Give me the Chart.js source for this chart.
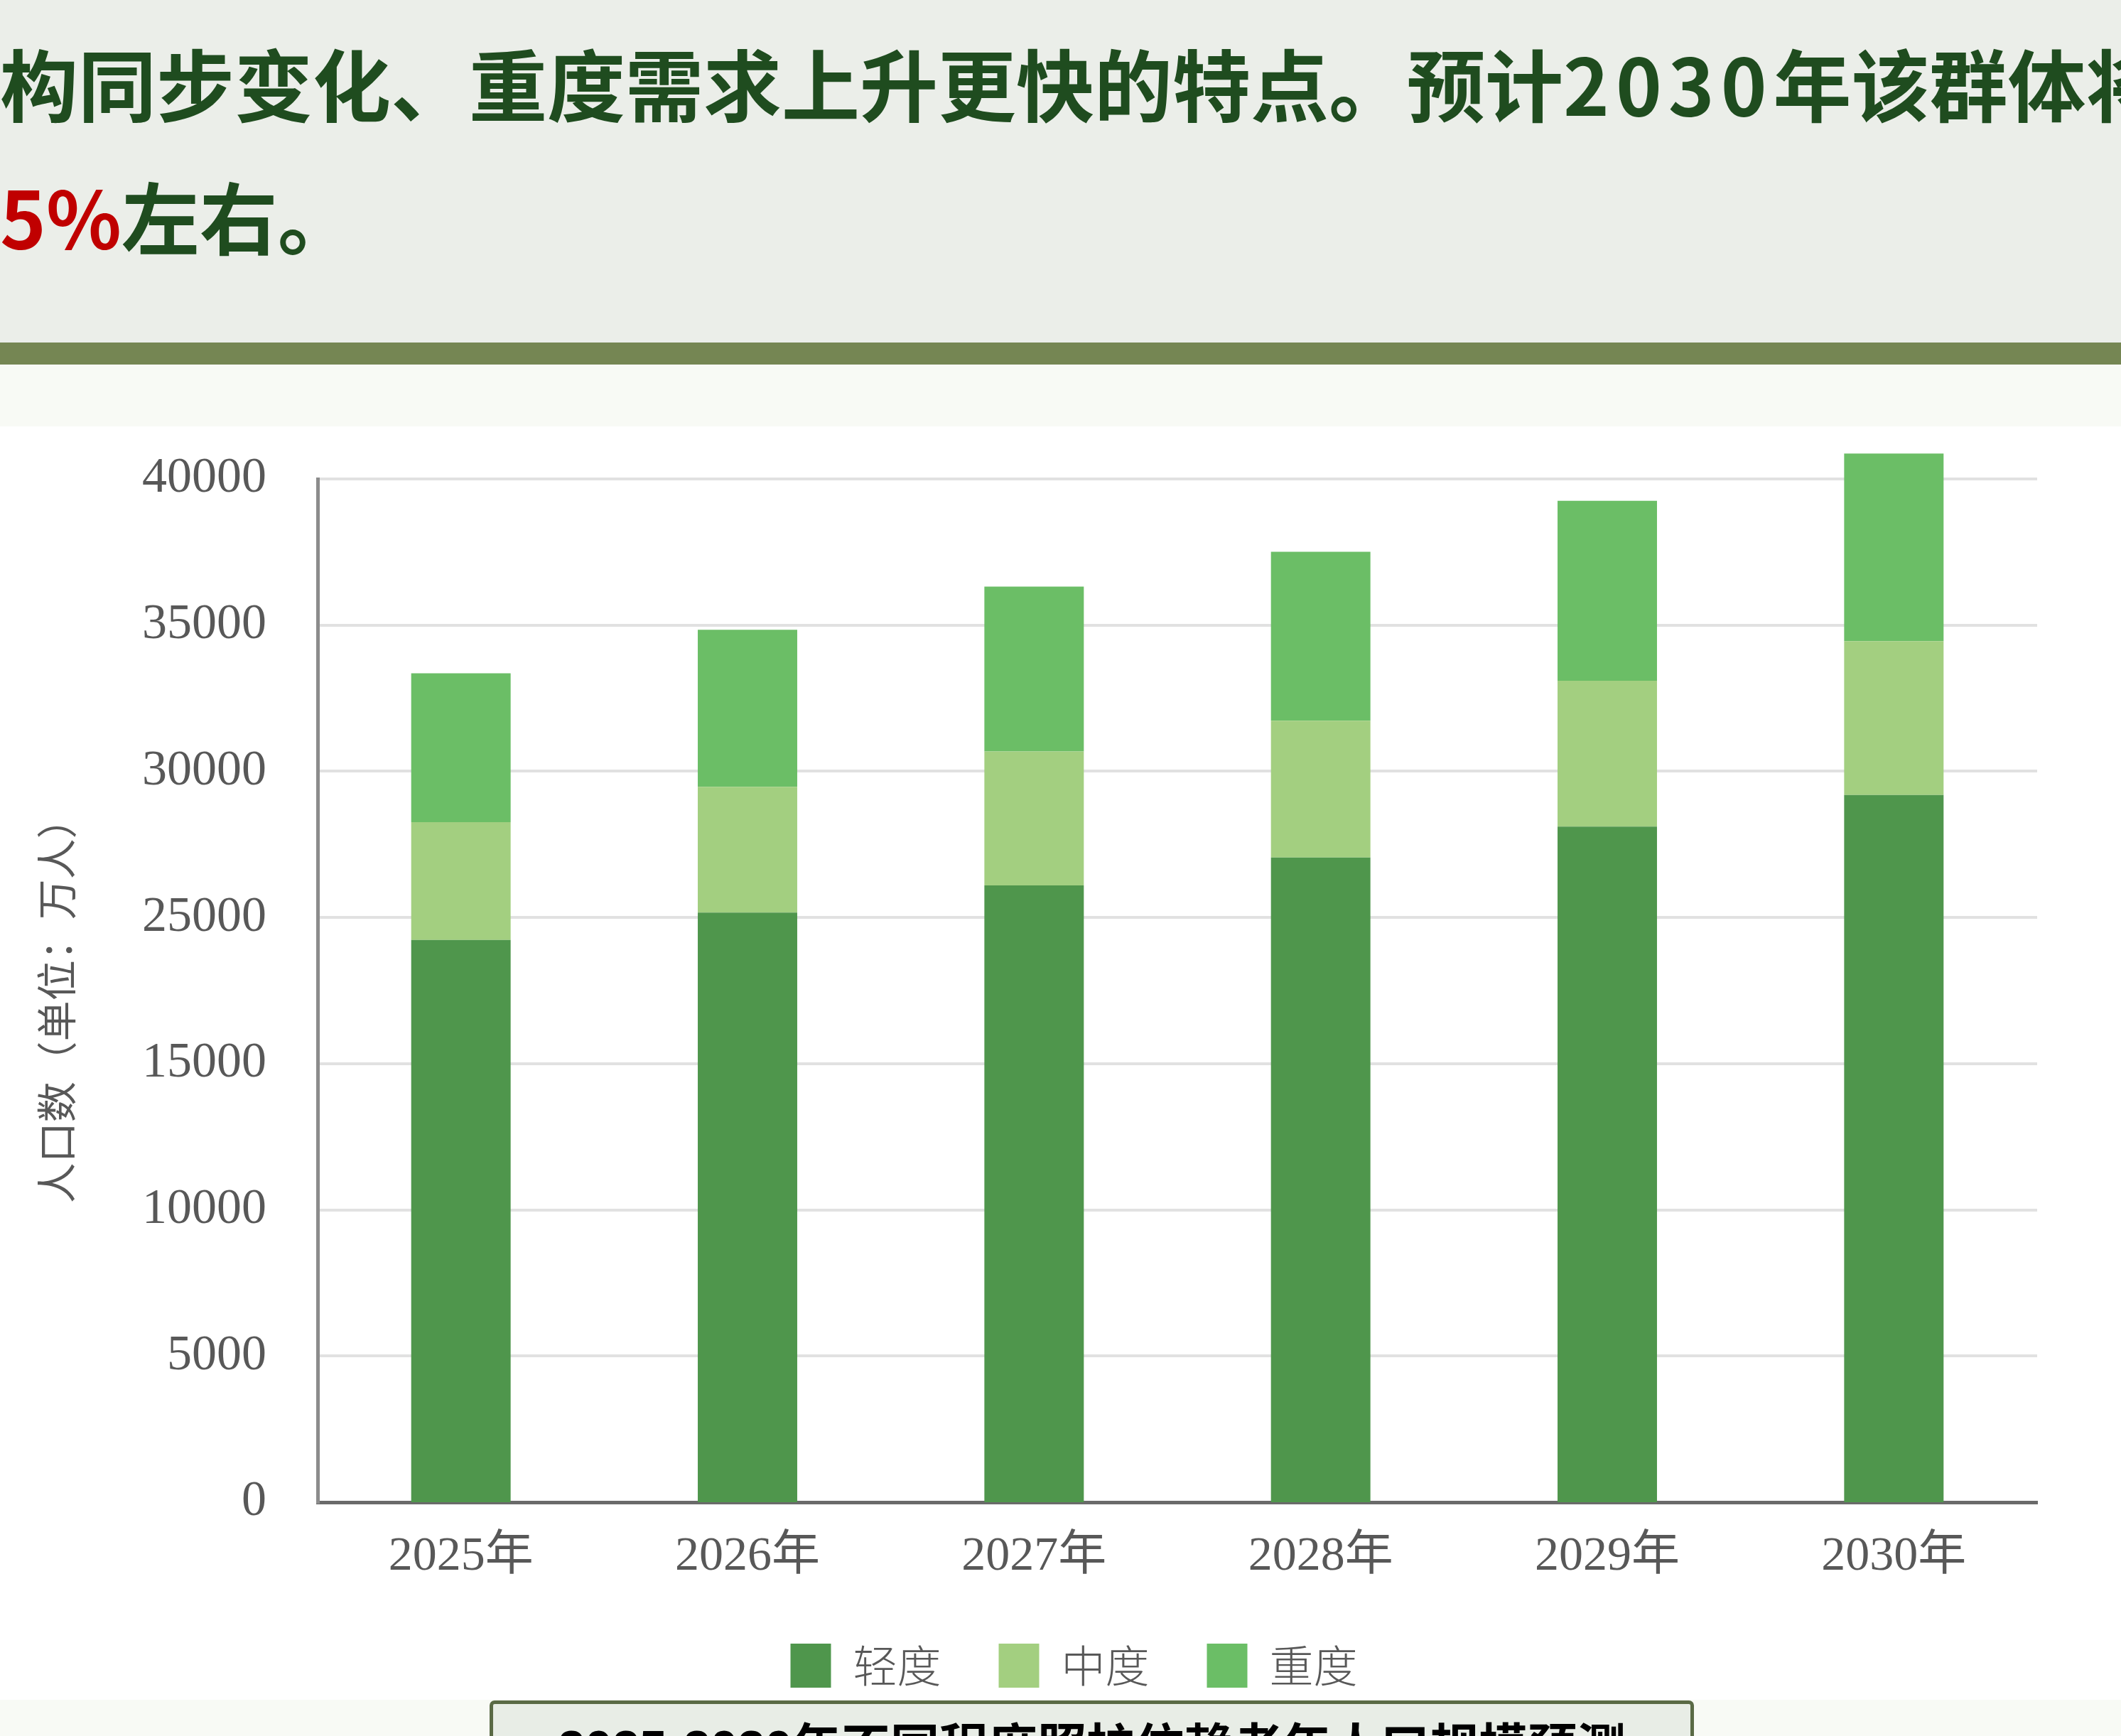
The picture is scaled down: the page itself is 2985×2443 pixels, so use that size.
<!DOCTYPE html>
<html><head><meta charset="utf-8">
<script src="https://cdn.jsdelivr.net/npm/chart.js@4.4.1/dist/chart.umd.min.js"></script>
<style>
html,body{margin:0;padding:0;}
body{width:2985px;height:2443px;position:relative;overflow:hidden;background:#f8faf5;}
#header{position:absolute;left:0;top:0;width:2985px;height:482px;background:#ebeee9;overflow:hidden;}
.hl{position:absolute;left:0;white-space:nowrap;font-family:"Noto Sans CJK SC";font-weight:700;font-size:110px;line-height:110px;color:#1f4c1f;}
.red{color:#c00000;}
.dg{letter-spacing:9px;}
#band{position:absolute;left:0;top:482px;width:2985px;height:31px;background:#758653;}
#chartWrap{position:absolute;left:0;top:600px;width:2985px;height:1792px;background:#ffffff;}
#c{position:absolute;left:0;top:0;}
#cap{position:absolute;left:689px;top:2393px;width:1695px;height:160px;border:5px solid #5a6a45;border-radius:7px;background:#e8ede6;box-sizing:border-box;overflow:hidden;}
#capText{position:absolute;left:0;right:0;top:27px;text-align:center;white-space:nowrap;font-family:"Liberation Sans","Noto Sans CJK SC";font-weight:700;font-size:69px;line-height:69px;color:#000;}
</style>
</head>
<body>
<div id="header">
  <div class="hl" style="top:60px;">构同步变化、重度需求上升更快的特点。预计<span class="dg">2030</span>年该群体将</div>
  <div class="hl" style="top:247px;"><span class="red">5%</span>左右。</div>
</div>
<div id="band"></div>
<div id="chartWrap"><canvas id="c" width="2985" height="1792"></canvas></div>
<div id="cap"><div id="capText">2025-2030年不同程度照护依赖老年人口规模预测</div></div>
<script>
const categories = ['2025年','2026年','2027年','2028年','2029年','2030年'];
const seriesLabels = ['轻度','中度','重度'];
const mildValues = [24230,25170,26100,27050,28110,29190];
const moderateValues = [4030,4300,4580,4680,4990,5260];
const severeValues = [5090,5370,5640,5780,6150,6420];
const yTickLabels = ['0','5000','10000','15000','25000','30000','35000','40000'];
const seriesColors = ['#4f964c','#a3cf80','#6bbe66'];
const yTitle = '人口数（单位：万人）\u3000';

const barClip = {left:false, right:false, top:false, bottom:0};
const serifFont = '"Liberation Serif", "Noto Sans CJK SC", serif';
const textGrey = '#585858';

new Chart(document.getElementById('c'), {
  type: 'bar',
  data: {
    labels: categories,
    datasets: [
      {label: seriesLabels[0], data: mildValues, backgroundColor: seriesColors[0], clip: barClip},
      {label: seriesLabels[1], data: moderateValues, backgroundColor: seriesColors[1], clip: barClip},
      {label: seriesLabels[2], data: severeValues, backgroundColor: seriesColors[2], clip: barClip}
    ]
  },
  options: {
    responsive: false,
    devicePixelRatio: 1,
    animation: false,
    layout: {padding: {top: 74, right: 0, bottom: 7, left: 38}},
    datasets: {bar: {categoryPercentage: 1, barPercentage: 0.347}},
    plugins: {
      tooltip: {enabled: false},
      legend: {
        position: 'bottom',
        labels: {
          boxWidth: 57, boxHeight: 62, padding: 81, color: textGrey,
          font: {family: '"Noto Sans CJK SC"', size: 62, weight: '300'}
        }
      }
    },
    scales: {
      x: {
        stacked: true,
        offset: true,
        grid: {display: false, drawTicks: false},
        border: {display: true, color: '#6a6a6a', width: 5},
        ticks: {color: textGrey, padding: 36, font: {family: serifFont, size: 68}},
        afterFit: s => { s.height = 118; }
      },
      y: {
        stacked: true,
        min: 5000,
        max: 40000,
        ticks: {
          stepSize: 5000,
          padding: 72,
          color: textGrey,
          font: {family: serifFont, size: 70},
          callback: (v, i) => yTickLabels[i]
        },
        grid: {
          drawTicks: false,
          lineWidth: 4,
          color: ctx => (ctx.index === 0 ? 'rgba(0,0,0,0)' : '#e1e1e1')
        },
        border: {display: true, color: '#8c8c8c', width: 5},
        title: {
          display: true,
          text: yTitle,
          color: textGrey,
          font: {family: '"Noto Sans CJK SC"', size: 57, weight: '400'},
          padding: {top: 7, bottom: 0}
        },
        afterFit: s => { s.width = 409; s.paddingTop = 0; s.paddingBottom = 0; }
      },
      rightSpace: {
        type: 'linear',
        position: 'right',
        display: true,
        ticks: {display: false},
        grid: {display: false, drawTicks: false},
        border: {display: false},
        afterFit: s => { s.width = 118; s.paddingTop = 0; s.paddingBottom = 0; }
      }
    }
  }
});
</script>
</body></html>
